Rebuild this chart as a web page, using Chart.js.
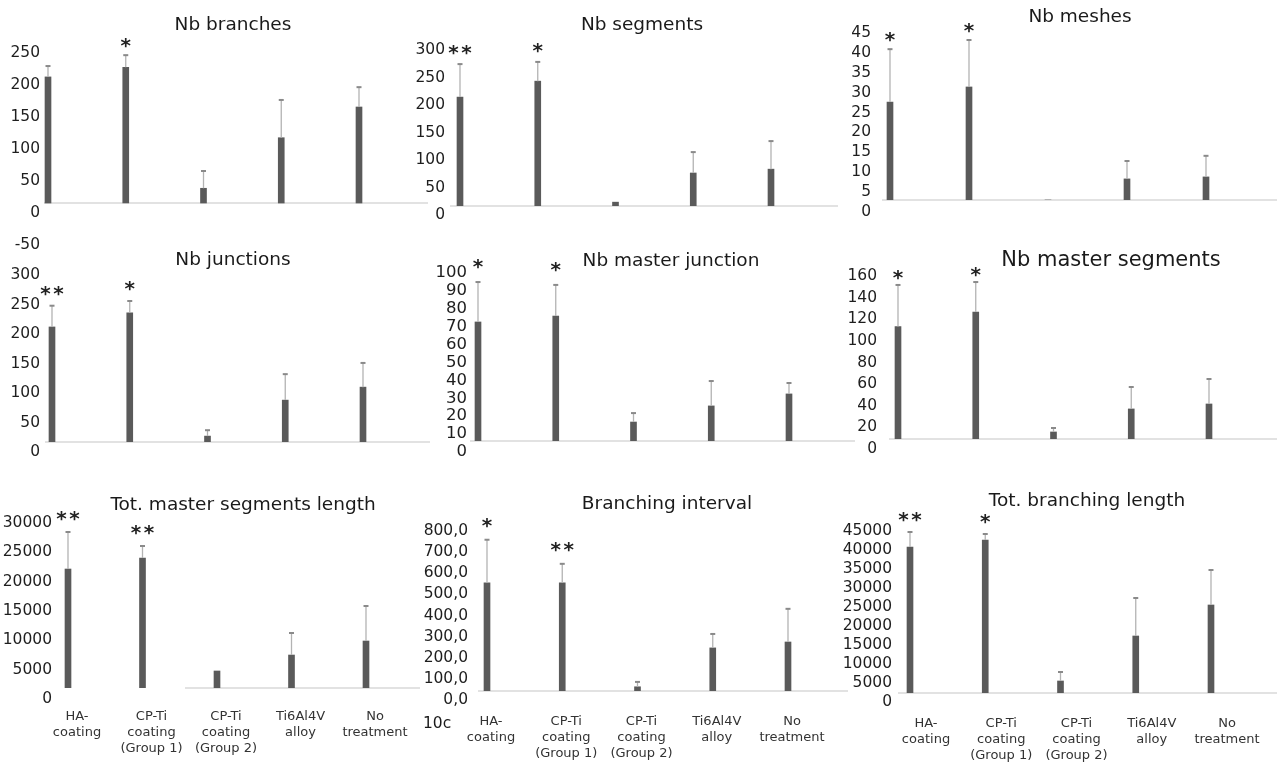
<!DOCTYPE html>
<html>
<head>
<meta charset="utf-8">
<script src="https://cdn.jsdelivr.net/npm/chart.js@4.4.1/dist/chart.umd.min.js"></script>
<style>
html,body{margin:0;padding:0;background:#fff;overflow:hidden;width:1277px;height:764px;}
canvas{position:absolute;left:0;top:0;}
</style>
</head>
<body>
<script>
// ---------------- DATA ----------------
const categories = [["HA-","coating"],["CP-Ti","coating","(Group 1)"],["CP-Ti","coating","(Group 2)"],["Ti6Al4V","alloy"],["No","treatment"]];

const branchesMean = [197, 212, 23, 102, 150];
const branchesErr  = [17, 19, 27, 59, 31];
const branchesSig  = ["", "*", "", "", ""];
const branchesTicks = [-50, 0, 50, 100, 150, 200, 250];

const segmentsMean = [198, 227, 7, 60, 67];
const segmentsErr  = [60, 35, 0, 38, 51];
const segmentsSig  = ["**", "*", "", "", ""];
const segmentsTicks = [0, 50, 100, 150, 200, 250, 300];

const meshesMean = [24.6, 28.4, 0, 5.3, 5.8];
const meshesErr  = [13.3, 11.8, 0, 4.5, 5.3];
const meshesSig  = ["*", "*", "", "", ""];
const meshesTicks = [0, 5, 10, 15, 20, 25, 30, 35, 40, 45];

const junctionsMean = [195, 219, 10, 71, 93];
const junctionsErr  = [36, 20, 10, 44, 41];
const junctionsSig  = ["**", "*", "", "", ""];
const junctionsTicks = [0, 50, 100, 150, 200, 250, 300];

const masterJunctionMean = [66.5, 69.8, 10.6, 19.6, 26.3];
const masterJunctionErr  = [22.3, 17.4, 5.0, 13.9, 6.1];
const masterJunctionSig  = ["*", "*", "", "", ""];
const masterJunctionTicks = [0, 10, 20, 30, 40, 50, 60, 70, 80, 90, 100];

const masterSegmentsMean = [104, 117.5, 6.5, 27.8, 32.4];
const masterSegmentsErr  = [38.5, 27.7, 3.7, 20.3, 23.1];
const masterSegmentsSig  = ["*", "*", "", "", ""];
const masterSegmentsTicks = [0, 20, 40, 60, 80, 100, 120, 140, 160];

const masterLengthMean = [20280, 22160, 2900, 5620, 8010];
const masterLengthErr  = [6310, 2040, 0, 3750, 5970];
const masterLengthSig  = ["**", "**", "", "", ""];
const masterLengthTicks = [0, 5000, 10000, 15000, 20000, 25000, 30000];

const intervalMean = [512, 512, 20, 204, 232];
const intervalErr  = [204, 90, 23, 66, 157];
const intervalSig  = ["*", "**", "", "", ""];
const intervalTicks = [0, 100, 200, 300, 400, 500, 600, 700, 800];

const branchLengthMean = [38420, 40260, 3160, 15000, 23160];
const branchLengthErr  = [3950, 1580, 2370, 10000, 9210];
const branchLengthSig  = ["**", "*", "", "", ""];
const branchLengthTicks = [0, 5000, 10000, 15000, 20000, 25000, 30000, 35000, 40000, 45000];

// ---------------- LAYOUT ----------------
const FONT = '"DejaVu Sans", Verdana, sans-serif';
const W = 1277, H = 764;
const commaFmt = v => v.toFixed(1).replace('.', ',');

const panels = [
  {title:"Nb branches", mean:branchesMean, err:branchesErr, sig:branchesSig, ticks:branchesTicks,
   L:{tx:233,ty:23,ts:18.5,y0:203,k:0.64,lo:10,lr:40,cl:44,cr:428,c0:48,c4:359,sg:12}},
  {title:"Nb segments", mean:segmentsMean, err:segmentsErr, sig:segmentsSig, ticks:segmentsTicks,
   L:{tx:642,ty:23,ts:18.5,y0:206,k:0.55,lo:9,lr:445,cl:450,cr:838,c0:460,c4:771,sg:14}},
  {title:"Nb meshes", mean:meshesMean, err:meshesErr, sig:meshesSig, ticks:meshesTicks,
   L:{tx:1080,ty:15,ts:18.5,y0:200,k:3.98,lo:12,lr:871,cl:882,cr:1277,c0:890,c4:1206,sg:12}},
  {title:"Nb junctions", mean:junctionsMean, err:junctionsErr, sig:junctionsSig, ticks:junctionsTicks,
   L:{tx:233,ty:258,ts:18.5,y0:442,k:0.59,lo:10,lr:40,cl:45,cr:430,c0:52,c4:363,sg:15}},
  {title:"Nb master junction", mean:masterJunctionMean, err:masterJunctionErr, sig:masterJunctionSig, ticks:masterJunctionTicks,
   L:{tx:671,ty:259,ts:18.5,y0:441,k:1.79,lo:11,lr:467,cl:470,cr:855,c0:478,c4:789,sg:18,fs:16.5}},
  {title:"Nb master segments", mean:masterSegmentsMean, err:masterSegmentsErr, sig:masterSegmentsSig, ticks:masterSegmentsTicks,
   L:{tx:1111,ty:258,ts:21,y0:439,k:1.081,lo:10,lr:877,cl:889,cr:1277,c0:898,c4:1209,sg:10}},
  {title:"Tot. master segments length", mean:masterLengthMean, err:masterLengthErr, sig:masterLengthSig, ticks:masterLengthTicks,
   L:{tx:243,ty:503,ts:18.5,y0:688,k:0.005867,lo:11,lr:52,cl:56,cr:420,c0:68,c4:366,sg:16,xl:true,xp:21,xo:9,bf:1.57}},
  {title:"Branching interval", mean:intervalMean, err:intervalErr, sig:intervalSig, ticks:intervalTicks, fmt:commaFmt,
   L:{tx:667,ty:502,ts:18.5,y0:691,k:0.21125,lo:9,lr:468,cl:478,cr:848,c0:487,c4:788,sg:17,xl:true,xp:23,xo:4,
      notes:[{text:"10c",x:423,y:722}]}},
  {title:"Tot. branching length", mean:branchLengthMean, err:branchLengthErr, sig:branchLengthSig, ticks:branchLengthTicks,
   L:{tx:1087,ty:499,ts:18.5,y0:693,k:0.0038,lo:9,lr:892,cl:898,cr:1277,c0:910,c4:1211,sg:15,xl:true,xp:23,xo:16}}
];

function drawStarGlyph(ctx, x, cy){
  const m = ctx.measureText('*');
  const base = cy + (m.actualBoundingBoxAscent - m.actualBoundingBoxDescent)/2;
  ctx.fillText('*', x, base);
}

function panelPlugin(p){
  const L = p.L;
  return {
    id:'panelDecor',
    beforeDatasetsDraw(chart){
      const {ctx, chartArea, scales:{x, y}} = chart;
      const yb = y.getPixelForValue(0);
      const xa = (L.bf !== undefined) ? x.getPixelForValue(L.bf) : chartArea.left;
      ctx.save();
      ctx.strokeStyle = '#d8d8d8'; ctx.lineWidth = 1.5;
      ctx.beginPath(); ctx.moveTo(xa, yb); ctx.lineTo(chartArea.right, yb); ctx.stroke();
      ctx.restore();
    },
    afterDatasetsDraw(chart){
      const {ctx, scales:{y}} = chart;
      const meta = chart.getDatasetMeta(0);
      ctx.save();
      meta.data.forEach((el, i) => {
        const e = p.err[i];
        if (!e) return;
        const yt = y.getPixelForValue(p.mean[i] + e);
        ctx.strokeStyle = '#b3b3b3'; ctx.lineWidth = 1.3;
        ctx.beginPath(); ctx.moveTo(el.x, el.y); ctx.lineTo(el.x, yt); ctx.stroke();
        ctx.strokeStyle = '#8a8a8a'; ctx.lineWidth = 2;
        ctx.beginPath(); ctx.moveTo(el.x - 2.5, yt); ctx.lineTo(el.x + 2.5, yt); ctx.stroke();
      });
      ctx.restore();
    },
    afterDraw(chart){
      const {ctx, scales:{y}} = chart;
      const meta = chart.getDatasetMeta(0);
      ctx.save();
      ctx.fillStyle = '#222';
      ctx.font = 'bold 20px ' + FONT;
      ctx.textAlign = 'center';
      ctx.textBaseline = 'alphabetic';
      meta.data.forEach((el, i) => {
        const s = p.sig[i];
        if (!s) return;
        const cy = y.getPixelForValue(p.mean[i] + p.err[i]) - L.sg;
        const n = s.length;
        for (let j = 0; j < n; j++) drawStarGlyph(ctx, el.x + (j - (n-1)/2) * 13, cy);
      });
      ctx.fillStyle = '#1a1a1a';
      ctx.font = L.ts + 'px ' + FONT;
      ctx.textAlign = 'center';
      ctx.fillText(p.title, L.tx, L.ty + 0.3645 * L.ts);
      (L.notes || []).forEach(nt => {
        ctx.font = '15.5px ' + FONT;
        ctx.textAlign = 'left';
        ctx.fillText(nt.text, nt.x, nt.y + 0.3645 * 15.5);
      });
      ctx.restore();
    }
  };
}

function makePanel(p){
  const L = p.L;
  const canvas = document.createElement('canvas');
  canvas.width = W; canvas.height = H;
  canvas.style.width = W + 'px'; canvas.style.height = H + 'px';
  document.body.appendChild(canvas);
  const ymin = Math.min(...p.ticks), ymax = Math.max(...p.ticks);
  const topPx = L.y0 - ymax * L.k;
  const botPx = L.y0 - ymin * L.k;
  const xh = L.xl ? 70 : 0;
  const yw = L.cl;           // y axis spans from the canvas edge so its labels are not clipped
  const n = p.mean.length;
  const s = (L.c4 - L.c0) / (n - 1);
  const xmin = -(L.c0 - L.cl) / s;
  const xmax = (n - 1) + (L.cr - L.c4) / s;
  new Chart(canvas, {
    type: 'bar',
    data: {
      datasets: [{
        data: p.mean.map((v, i) => ({x: i, y: v})),
        backgroundColor: '#5a5a5a',
        borderWidth: 0,
        barThickness: 6
      }]
    },
    options: {
      responsive: false,
      animation: false,
      devicePixelRatio: 1,
      events: [],
      layout: {autoPadding: false, padding: {left: 0, right: W - L.cr, top: topPx, bottom: H - botPx - xh}},
      plugins: {legend: {display: false}, tooltip: {enabled: false}, title: {display: false}},
      scales: {
        x: {
          type: 'linear', offset: false, min: xmin, max: xmax, display: !!L.xl,
          grid: {display: false, drawTicks: false}, border: {display: false},
          afterBuildTicks: sc => { sc.ticks = p.mean.map((v, i) => ({value: i})); },
          afterFit: sc => { sc.height = xh; sc.paddingLeft = 0; sc.paddingRight = 0; },
          ticks: {
            autoSkip: false, maxRotation: 0, minRotation: 0,
            padding: L.xp || 0, labelOffset: L.xo || 0,
            color: '#333', font: {family: FONT, size: 13, lineHeight: 16/13},
            callback: v => categories[v] || ''
          }
        },
        y: {
          type: 'linear', min: ymin, max: ymax,
          grid: {display: false, drawTicks: false}, border: {display: false},
          afterBuildTicks: sc => { sc.ticks = p.ticks.map(v => ({value: v})); },
          afterFit: sc => { sc.width = yw; sc.paddingTop = 0; sc.paddingBottom = 0; },
          ticks: {
            autoSkip: false, padding: L.cl - L.lr, labelOffset: L.lo,
            color: '#1e1e1e', font: {family: FONT, size: L.fs || 15.5},
            callback: v => p.fmt ? p.fmt(v) : String(v)
          }
        }
      }
    },
    plugins: [panelPlugin(p)]
  });
}

panels.forEach(makePanel);
</script>
</body>
</html>
